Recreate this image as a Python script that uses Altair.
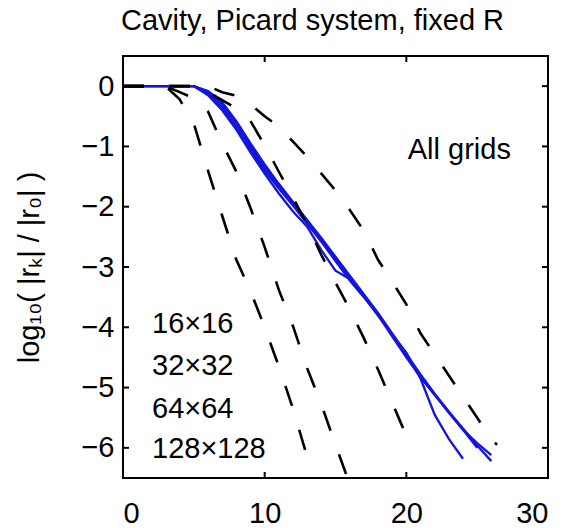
import altair as alt
import pandas as pd

# ---------------- data ----------------
title_text = "Cavity, Picard system, fixed R"
y_title = "log\u2081\u2080( |r\u2096| / |r\u2080| )"

x_ticks = [0, 10, 20, 30]
y_ticks = [-6, -5, -4, -3, -2, -1, 0]

# dashed black curves (one per grid)
dash1_x = [0, 1, 2, 3, 4, 5, 6, 7, 8, 9, 10, 11, 12, 13]
dash1_y = [0, 0, 0, 0, -0.22, -0.62, -1.4, -2.15, -2.88, -3.4, -4.0, -4.65, -5.35, -6.15]

dash2_x = [0, 1, 2, 3, 4, 5, 6, 7, 8, 9, 10, 11, 12, 13, 14, 15, 16]
dash2_y = [0, 0, 0, 0, -0.1, -0.2, -0.42, -0.95, -1.42, -2.02, -2.67, -3.38, -3.98,
           -4.68, -5.28, -5.95, -6.6]

dash3_x = [0, 1, 2, 3, 4, 5, 6, 7, 8, 9, 10, 11, 12, 13, 14, 15, 16, 17, 18, 19, 20, 20.5]
dash3_y = [0, 0, 0, 0, 0, 0, -0.1, -0.23, -0.37, -0.58, -0.98, -1.42, -1.85, -2.3, -2.8,
           -3.26, -3.7, -4.18, -4.7, -5.25, -5.8, -6.05]

dash4_x = [0, 1, 2, 3, 4, 5, 6, 7, 8, 9, 10, 11, 12, 13, 14, 15, 16, 17, 18, 19, 20,
           21, 22, 23, 24, 25, 26, 26.4]
dash4_y = [0, 0, 0, 0, 0, 0, 0, -0.1, -0.16, -0.3, -0.5, -0.67, -0.92, -1.17, -1.45,
           -1.73, -2.05, -2.4, -2.88, -3.24, -3.62, -4.1, -4.45, -4.8, -5.15, -5.5,
           -5.85, -5.95]

# solid blue curves (all grids)
blue1_x = list(range(0, 25))
blue1_y = [0, 0, 0, 0, 0, 0, -0.12, -0.35, -0.68, -1.05, -1.4, -1.7, -1.98, -2.28,
           -2.58, -2.9, -3.22, -3.5, -3.8, -4.12, -4.42, -4.85, -5.45, -5.85, -6.18]
blue2_x = list(range(0, 27))
blue2_y = [0, 0, 0, 0, 0, 0, -0.15, -0.4, -0.72, -1.1, -1.45, -1.78, -2.08, -2.33,
           -2.72, -3.06, -3.2, -3.48, -3.8, -4.15, -4.5, -4.83, -5.12, -5.4, -5.68,
           -5.96, -6.22]
blue3_x = list(range(0, 27))
blue3_y = [0, 0, 0, 0, 0, 0, -0.1, -0.3, -0.62, -1.0, -1.35, -1.66, -1.95, -2.25,
           -2.55, -2.86, -3.17, -3.48, -3.78, -4.12, -4.47, -4.82, -5.12, -5.42, -5.7,
           -5.92, -6.12]
blue4_x = list(range(0, 26))
blue4_y = [0, 0, 0, 0, 0, 0, -0.08, -0.27, -0.58, -0.95, -1.3, -1.62, -1.92, -2.22,
           -2.52, -2.83, -3.14, -3.45, -3.76, -4.1, -4.44, -4.78, -5.1, -5.4, -5.7, -6.0]

grid_labels = ["16\u00d716", "32\u00d732", "64\u00d764", "128\u00d7128"]
grid_label_x = [2.05, 2.05, 2.05, 2.05]
grid_label_y = [-4.1, -4.79, -5.5, -6.16]

note_text = ["All grids"]
note_x = [20.1]
note_y = [-1.21]

# ---------------- tables ----------------
def long_table(series):
    rows = []
    for name, xs, ys in series:
        for xv, yv in zip(xs, ys):
            rows.append({"series": name, "it": xv, "res": yv})
    return pd.DataFrame(rows)

dash_df = long_table([("d1", dash1_x, dash1_y), ("d2", dash2_x, dash2_y),
                      ("d3", dash3_x, dash3_y), ("d4", dash4_x, dash4_y)])
blue_df = long_table([("b1", blue1_x, blue1_y), ("b2", blue2_x, blue2_y),
                      ("b3", blue3_x, blue3_y), ("b4", blue4_x, blue4_y)])
lab_df = pd.DataFrame({"t": grid_labels, "it": grid_label_x, "res": grid_label_y})
note_df = pd.DataFrame({"t": note_text, "it": note_x, "res": note_y})
xt_df = pd.DataFrame({"it": x_ticks})
yt_df = pd.DataFrame({"res": y_ticks})

W, H = 425, 422
FONT = "Liberation Sans, Arial, Helvetica, sans-serif"
FS = 29
TL = 6

xscale = alt.Scale(domain=[0, 30], nice=False, zero=False)
yscale = alt.Scale(domain=[-6.5, 0.5], nice=False, zero=False)

x_axis = alt.Axis(values=x_ticks, title=None, labelPadding=21, format="d",
                  domain=False, ticks=False, tickSize=0, grid=False,
                  labelFont=FONT, labelFontSize=FS, labelColor="black")
y_axis = alt.Axis(values=y_ticks, title=y_title, labelPadding=9, format="d",
                  domain=False, ticks=False, tickSize=0, grid=False,
                  labelFont=FONT, labelFontSize=FS, labelColor="black",
                  titleX=-94, titleY=H / 2, titleAlign="center",
                  titleBaseline="middle", titleFontSize=FS, titleFont=FONT,
                  titleFontWeight="normal", titleColor="black")

X = alt.X("it:Q", scale=xscale, axis=x_axis)
Y = alt.Y("res:Q", scale=yscale, axis=y_axis)

blue = alt.Chart(blue_df).mark_line(color="#1414dc", strokeWidth=2.3, clip=True).encode(
    x=X, y=Y, detail="series:N")

dashed = alt.Chart(dash_df).mark_line(color="black", strokeWidth=2.6, strokeDash=[21, 25],
                                      clip=True).encode(x=X, y=Y, detail="series:N")

labels = alt.Chart(lab_df).mark_text(align="left", baseline="alphabetic", font=FONT,
                                     fontSize=FS, color="black").encode(
    x=X, y=Y, text="t:N")
note = alt.Chart(note_df).mark_text(align="left", baseline="alphabetic", font=FONT,
                                    fontSize=FS, color="black").encode(
    x=X, y=Y, text="t:N")

tick_kw = dict(color="black", strokeWidth=2)
xt_bottom = alt.Chart(xt_df).mark_rule(**tick_kw).encode(
    x=X, y=alt.value(H), y2=alt.value(H - TL))
xt_top = alt.Chart(xt_df).mark_rule(**tick_kw).encode(
    x=X, y=alt.value(0), y2=alt.value(TL))
yt_left = alt.Chart(yt_df).mark_rule(**tick_kw).encode(
    y=Y, x=alt.value(0), x2=alt.value(TL))
yt_right = alt.Chart(yt_df).mark_rule(**tick_kw).encode(
    y=Y, x=alt.value(W), x2=alt.value(W - TL))

chart = alt.layer(blue, dashed, labels, note, xt_bottom, xt_top, yt_left, yt_right).properties(
    width=W,
    height=H,
    padding={"left": 123, "top": 56, "right": 19, "bottom": 50},
    autosize=alt.AutoSizeParams(type="none"),
    background="white",
    title=alt.TitleParams(title_text, font=FONT, fontSize=FS, fontWeight="normal",
                          color="black", anchor="middle", dx=-23, dy=4, offset=0,
                          baseline="alphabetic", frame="group"),
).configure_view(
    stroke="black", strokeWidth=2
)

chart.save("out.html", embed_options={"renderer": "svg", "actions": False})
